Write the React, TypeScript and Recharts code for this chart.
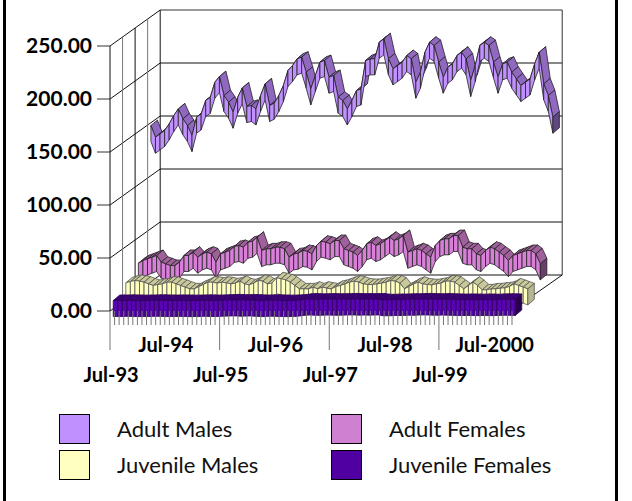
// App.tsx - monthly arrests by age/sex, drawn as Excel style 3D ribbons
import { ComposedChart, CartesianGrid, Line, XAxis, YAxis } from "recharts";

const tickLabels = ["Jul-93", "Jul-94", "Jul-95", "Jul-96", "Jul-97", "Jul-98", "Jul-99", "Jul-2000"];
const yTicks = [0, 50, 100, 150, 200, 250];

const adultMales = [
  140.8, 129.8, 132.9, 136.1, 142.4, 150.2, 156.5, 147.1, 140.8, 131.4,
  148.7, 151.8, 164.4, 167.5, 181.7, 187, 169.1, 162.8, 153.4, 167.5,
  176.3, 158.7, 159.7, 156.5, 169.1, 180.1, 159.7, 161.9, 169.1, 178.5,
  192.7, 197.4, 203.7, 205.3, 191.1, 175.4, 188, 200.6, 202.1, 186.4,
  188, 167.5, 164.4, 156.5, 164.4, 173.8, 175.4, 202.1, 203.7, 203.7,
  219.4, 222.6, 203.7, 194.3, 197.4, 200.6, 206.8, 203.7, 181.7, 191.1,
  210, 219.4, 216.3, 200.6, 186.4, 195.8, 199, 206.8, 210, 203.7,
  183.3, 197.4, 216.3, 219.4, 216.3, 200.6, 186.4, 199, 200.6, 191.1,
  184.8, 178.5, 181.7, 184.8, 199, 210, 180.1, 169.1, 148.7,
];
const adultFemales = [
  19.4, 21.9, 23.5, 25.1, 26.7, 20.4, 18.8, 17.2, 17.2, 20.4,
  26.7, 26.7, 29.8, 25.1, 28.2, 29.8, 28.2, 20.4, 28.2, 29.8,
  31.4, 35.2, 36.1, 34.5, 39.2, 40.2, 43.9, 31.4, 33, 33,
  34.5, 34.5, 33, 25.1, 28.2, 28.9, 31.4, 30.7, 28.2, 36.1,
  40.2, 39.2, 37.7, 40.8, 40.8, 33, 31.4, 29.8, 26.7, 31.4,
  37.7, 39.2, 36.1, 37.7, 40.8, 43.9, 40.8, 42.4, 45.5, 29.8,
  31.4, 33, 31.4, 28.2, 25.1, 36.1, 40.8, 42.4, 42.4, 45.5,
  45.5, 34.5, 33, 33, 28.2, 26.7, 31.4, 34.5, 33, 29.8,
  26.7, 21.9, 26.7, 28.2, 29.8, 31.4, 31.4, 28.2, 18.8,
];
const juvenileMales = [
  9.4, 10.6, 11.6, 11, 10, 8.4, 6.9, 7.8, 8.4, 10,
  10, 8.4, 6.9, 5.3, 3.7, 3.7, 5.9, 7.8, 10, 10,
  9.1, 10, 9.4, 8.4, 9.1, 11, 8.4, 7.5, 9.1, 11.6,
  11, 8.4, 9.1, 14.1, 13.2, 12.2, 10, 6.9, 3.7, 3.7,
  3.7, 5.3, 3.7, 5.3, 4.4, 3.7, 5.9, 6.9, 8.4, 10,
  11, 10, 8.4, 7.8, 7.8, 8.4, 9.1, 10, 11.6, 11,
  9.1, 3.7, 5.9, 8.4, 10, 8.4, 7.8, 7.5, 8.4, 9.1,
  11, 11, 10, 6.9, 3.7, 6.9, 10, 6.9, 2.8, 2.8,
  3.7, 3.7, 4.4, 4.7, 5.9, 8.4, 6.9, 5.3, 3.7,
];
const juvenileFemales = [
  1.2, 1.3, 1.2, 1.4, 1.3, 1.2, 1.1, 1.2, 1.3, 1.4,
  1.4, 1.3, 1.2, 1.2, 1.3, 1.3, 1.2, 1.1, 1.2, 1.3,
  1.4, 1.3, 1.2, 1.3, 1.5, 1.6, 1.8, 1.7, 1.5, 1.6,
  1.7, 1.5, 1.3, 1.2, 1.4, 1.5, 1.3, 1.2, 1.1, 1.2,
  1.4, 1.8, 2.4, 2.6, 2.5, 2.3, 2.5, 2.6, 2.5, 2.4,
  2.5, 2.6, 2.7, 2.6, 2.5, 2.6, 2.5, 2.6, 2.7, 2,
  1.9, 2, 2.2, 2.1, 2.3, 2.5, 2.4, 2.6, 2.7, 2.6,
  2.5, 2.4, 2.6, 2.5, 2.3, 2.2, 2.1, 2.2, 2.2, 2.1,
  2, 2.2, 2.1, 2, 2.2, 2.3, 2.4, 2.3, 2.2,
];

const data = adultMales.map((am, i) => ({
  month: i,
  am,
  af: adultFemales[i],
  jm: juvenileMales[i],
  jf: juvenileFemales[i],
}));

const FONT = "Lato, 'Open Sans', sans-serif";

// depth of the fake 3D box, and of one series slot inside it
const SLOT_DX = 12.55;
const SLOT_DY = 9;
const RIB_DX = 6.5;
const RIB_DY = 5.5;
const RIB_H = 16;
const EDGE = 0.8;
const WALL_DX = SLOT_DX * 4;
const WALL_DY = SLOT_DY * 4;
const PLOT_H = 265;

const pts = (list: number[][]) => list.map((p) => p.join(",")).join(" ");

// Each dot draws the ribbon piece from its own point to the next one
function ribbon(slot: number, front: string, top: string, cap: string, stroke: string) {
  const ox = slot * SLOT_DX + 3.25;
  const oy = slot * SLOT_DY + 1.2;
  return (props: any) => {
    const { cx, cy, index, points } = props;
    const x = cx + ox;
    const y = cy - oy - RIB_H / 2;
    const next = points && points[index + 1];
    if (!next) {
      return (
        <g key={index}>
          <polygon
            points={pts([[x, y], [x + RIB_DX, y - RIB_DY], [x + RIB_DX, y - RIB_DY + RIB_H], [x, y + RIB_H]])}
            fill={cap}
            stroke={stroke}
            strokeWidth={EDGE}
          />
        </g>
      );
    }
    const nx = next.x + ox;
    const ny = next.y - oy - RIB_H / 2;
    return (
      <g key={index}>
        <polygon
          points={pts([[x, y], [nx, ny], [nx + RIB_DX, ny - RIB_DY], [x + RIB_DX, y - RIB_DY]])}
          fill={top}
          stroke={stroke}
          strokeWidth={EDGE}
        />
        <polygon
          points={pts([[x, y], [nx, ny], [nx, ny + RIB_H], [x, y + RIB_H]])}
          fill={front}
          stroke={stroke}
          strokeWidth={EDGE}
        />
      </g>
    );
  };
}

// Left wall, back wall and the stubs at the value axis
function wallLine(props: any) {
  const { x1, y1, x2, index } = props;
  const isTop = y1 < 60;
  return (
    <g key={`wall-${index}`}>
      <line x1={x1 - 13} y1={y1} x2={x1} y2={y1} stroke="#333" />
      <line x1={x1} y1={y1} x2={x1 + WALL_DX} y2={y1 - WALL_DY} stroke="#111" />
      <line
        x1={x1 + WALL_DX}
        y1={y1 - WALL_DY}
        x2={x2 + WALL_DX}
        y2={y1 - WALL_DY}
        stroke={isTop ? "#777" : "#111"}
        strokeWidth={isTop ? 1.5 : 1}
      />
      {isTop &&
        [0, 1, 2, 3, 4].map((k) => (
          <line
            key={k}
            x1={x1 + k * SLOT_DX}
            y1={y1 - k * SLOT_DY}
            x2={x1 + k * SLOT_DX}
            y2={y1 - k * SLOT_DY + PLOT_H}
            stroke={k % 2 ? "#777" : "#111"}
          />
        ))}
      {isTop && (
        <line
          x1={x2 + WALL_DX}
          y1={y1 - WALL_DY}
          x2={x2 + WALL_DX}
          y2={y1 - WALL_DY + PLOT_H}
          stroke="#333"
        />
      )}
      {/* floor edge on the right */}
      {y1 > 300 && (
        <line x1={x2 + 6} y1={y1 - 5} x2={x2 + WALL_DX} y2={y1 - WALL_DY} stroke="#111" />
      )}
    </g>
  );
}

function MonthTick(props: any) {
  const { x, payload } = props;
  const i = payload.value;
  const base = 311;
  const isYear = i % 12 === 0;
  const longTick = i % 24 === 0;
  const low = i % 24 === 0;
  return (
    <g>
      <line x1={x} y1={base} x2={x} y2={longTick ? 350 : 325} stroke="#777" />
      {isYear && (
        <text
          x={x + 1}
          y={low ? 382 : 352}
          textAnchor="middle"
          fontFamily={FONT}
          fontWeight={700}
          fontSize={20}
          fill="#000"
        >
          {tickLabels[i / 12]}
        </text>
      )}
    </g>
  );
}

const legendItems = [
  { name: "Adult Males", color: "#C090FF", left: 59, top: 414 },
  { name: "Adult Females", color: "#D080D0", left: 331, top: 414 },
  { name: "Juvenile Males", color: "#FFFFC0", left: 59, top: 450 },
  { name: "Juvenile Females", color: "#5000A0", left: 331, top: 450 },
];

export default function App() {
  return (
    <div style={{ position: "absolute", left: 0, top: 0, width: 632, height: 501, background: "#fff", overflow: "hidden" }}>
      <div style={{ position: "absolute", left: 3, top: 0, width: 3, height: 501, background: "#000" }} />
      <div style={{ position: "absolute", left: 615, top: 0, width: 3, height: 501, background: "#000" }} />

      <ComposedChart
        width={632}
        height={501}
        data={data}
        margin={{ top: 46, right: 120, left: 0, bottom: 0 }}
        style={{ position: "absolute", left: 0, top: 0 }}
      >
        <CartesianGrid vertical={false} horizontal={wallLine} />
        <XAxis
          dataKey="month"
          scale="point"
          interval={0}
          height={190}
          axisLine={false}
          tickLine={false}
          tick={MonthTick}
        />
        <YAxis
          width={110}
          domain={[0, 250]}
          ticks={yTicks}
          axisLine={false}
          tickLine={false}
          tickSize={0}
          tickMargin={18}
          tickFormatter={(v: number) => v.toFixed(2)}
          tick={{ fontFamily: FONT, fontWeight: 700, fontSize: 21, fill: "#000" }}
        />
        <Line dataKey="am" stroke="none" isAnimationActive={false} dot={ribbon(3, "#C090FF", "#9068C0", "#604880", "#222")} />
        <Line dataKey="af" stroke="none" isAnimationActive={false} dot={ribbon(2, "#D880D8", "#A0609C", "#684068", "#222")} />
        <Line dataKey="jm" stroke="none" isAnimationActive={false} dot={ribbon(1, "#FFFFC0", "#C8C898", "#B8B890", "#555")} />
        <Line dataKey="jf" stroke="none" isAnimationActive={false} dot={ribbon(0, "#5804B0", "#3C0078", "#28004C", "#2C0058")} />
      </ComposedChart>

      {legendItems.map((it) => (
        <div key={it.name}>
          <div
            style={{
              position: "absolute",
              left: it.left,
              top: it.top,
              width: 29,
              height: 28,
              background: it.color,
              border: "1px solid #000",
            }}
          />
          <div
            style={{
              position: "absolute",
              left: it.left + 58,
              top: it.top + 2,
              fontFamily: FONT,
              fontSize: 22,
              lineHeight: "26px",
              color: "#111",
              whiteSpace: "nowrap",
            }}
          >
            {it.name}
          </div>
        </div>
      ))}
    </div>
  );
}
